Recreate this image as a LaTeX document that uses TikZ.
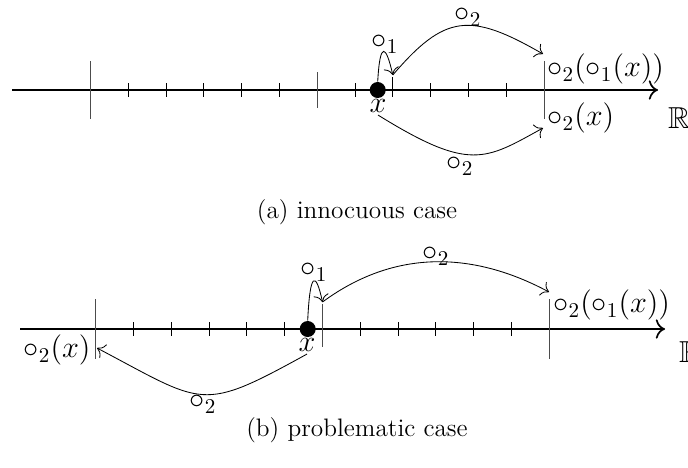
\documentclass[tikz,border=0pt]{standalone}
\usepackage{amssymb}
\usetikzlibrary{arrows.meta}

\begin{document}
\begin{tikzpicture}[
    x=0.475pt, y=-0.475pt,
    axis/.style={thick, -{To[scale=1.3]}},
    tick/.style={line width=0.45pt},
    mark big/.style={gray!60!black},
    dot/.style={circle, fill=black, inner sep=0pt, minimum size=7.6pt},
    map/.style={-{To[scale=1.4]}},
    lbl/.style={inner sep=1pt, font=\Large},
    subcap/.style={font=\large},
]
\useasboundingbox (0,0) rectangle (688,467);

% ── (a) innocuous case ──
\draw[axis] (12,90) -- (658,90);
\foreach \i in {1,...,5,7,9,10,11}
    \draw[tick] ({90.4+37.8*\i},83) -- ++(0,14);
\foreach \i in {0,12}
    \draw[mark big] ({90.4+37.8*\i},61) -- ++(0,58);
\draw[mark big] (317.2,72) -- ++(0,36);
\draw[tick] (392.8,77) -- (392.8,97);

\node[dot] (xa) at (377.7,90) {};
\node[lbl] (xa-lbl) at (378,106) {$x$};
\coordinate (a-o1) at (392.8,75);
\coordinate (a-fx) at (543,54);
\coordinate (a-gx) at (543,128);

\node[lbl] (a-o1-lbl) at (385,44) {$\circ_1$};
\node[lbl] (a-top-lbl) at (468,17) {$\circ_2$};
\node[lbl] (a-bot-lbl) at (460,166) {$\circ_2$};
\node[lbl, anchor=west] (a-fx-lbl) at (545,69) {$\circ_2(\circ_1(x))$};
\node[lbl, anchor=west] (a-gx-lbl) at (545,118) {$\circ_2(x)$};
\node[lbl] (a-R) at (679,118) {$\mathbb{R}$};

\draw[map] (xa.north) .. controls (380,40) and (386,45) .. (a-o1);
\draw[map] (a-o1) .. controls (445,14) and (470,12) .. (a-fx);
\draw[map] (xa-lbl.south) .. controls (470,172) and (485,160) .. (a-gx);

\node[subcap] (a-cap) at (357,212) {(a) innocuous case};

% ── (b) problematic case ──
\draw[axis] (20,329) -- (665,329);
\foreach \i in {1,...,5,7,8,9,10,11}
    \draw[tick] ({95.7+37.8*\i},322) -- ++(0,14);
\foreach \i in {0,12}
    \draw[mark big] ({95.7+37.8*\i},299) -- ++(0,60);
\draw[mark big] (322.5,304) -- (322.5,347);

\node[dot] (xb) at (307.7,329) {};
\node[lbl] (xb-lbl) at (307,345) {$x$};
\coordinate (b-o1) at (322.5,302);
\coordinate (b-fx) at (549,292);
\coordinate (b-gx) at (97,348);

\node[lbl] (b-o1-lbl) at (314,272) {$\circ_1$};
\node[lbl] (b-top-lbl) at (436,256) {$\circ_2$};
\node[lbl] (b-bot-lbl) at (203,404) {$\circ_2$};
\node[lbl, anchor=west] (b-fx-lbl) at (551,305) {$\circ_2(\circ_1(x))$};
\node[lbl, anchor=east] (b-gx-lbl) at (93,350) {$\circ_2(x)$};
\node[lbl] (b-R) at (690,352) {$\mathbb{R}$};

\draw[map] (xb.north) .. controls (310,270) and (316,272) .. (b-o1);
\draw[map] (b-o1) .. controls (400,245) and (480,255) .. (b-fx);
\draw[map] (xb-lbl.south) .. controls (200,413) and (205,405) .. (b-gx);

\node[subcap] (b-cap) at (357,430) {(b) problematic case};
\end{tikzpicture}
\end{document}
